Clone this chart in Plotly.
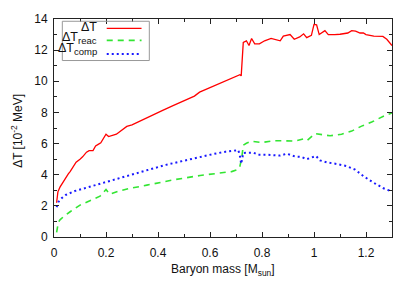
import plotly.graph_objects as go

# ---- data ----
mass_total = [0.01, 0.015, 0.023, 0.035, 0.042, 0.055, 0.062, 0.075, 0.085, 0.10, 0.11, 0.125, 0.135, 0.15,
              0.16, 0.17, 0.18, 0.20, 0.21, 0.24, 0.26, 0.28, 0.30, 0.33, 0.36, 0.38, 0.42, 0.46, 0.50, 0.54,
              0.56, 0.60, 0.64, 0.68, 0.70, 0.715, 0.72, 0.728, 0.74, 0.75, 0.76, 0.772, 0.79, 0.81, 0.835,
              0.85, 0.87, 0.882, 0.908, 0.924, 0.945, 0.96, 0.972, 0.99, 1.00, 1.01, 1.02, 1.042, 1.055, 1.08,
              1.10, 1.13, 1.145, 1.16, 1.177, 1.19, 1.20, 1.23, 1.265, 1.28, 1.30]
dT_total = [2.2, 2.9, 3.2, 3.55, 3.7, 4.05, 4.2, 4.55, 4.8, 5.0, 5.15, 5.45, 5.55, 5.55,
            5.85, 5.95, 6.05, 6.6, 6.45, 6.6, 6.85, 7.1, 7.2, 7.45, 7.7, 7.85, 8.15, 8.45, 8.75, 9.05,
            9.3, 9.6, 9.9, 10.15, 10.3, 10.42, 10.35, 12.5, 12.6, 12.3, 12.75, 12.4, 12.4, 12.6, 12.75,
            12.7, 12.6, 12.9, 13.0, 12.7, 12.85, 13.05, 12.8, 12.95, 13.65, 13.62, 13.0, 13.25, 13.0, 13.0,
            13.02, 13.1, 13.25, 13.22, 13.1, 13.1, 13.0, 12.9, 12.88, 12.7, 12.3]

mass_reac = [0.01, 0.017, 0.023, 0.036, 0.062, 0.10, 0.138, 0.177, 0.20, 0.215, 0.25, 0.286, 0.357, 0.459,
             0.562, 0.638, 0.683, 0.709, 0.715, 0.722, 0.728, 0.74, 0.76, 0.80, 0.843, 0.882, 0.927, 0.965,
             0.975, 1.004, 1.036, 1.062, 1.106, 1.145, 1.183, 1.222, 1.267, 1.30]
dT_reac = [0.3, 0.95, 1.1, 1.3, 1.62, 2.05, 2.33, 2.62, 3.05, 2.75, 2.95, 3.1, 3.33, 3.67,
           3.95, 4.1, 4.2, 4.35, 4.55, 5.06, 5.9, 6.02, 6.15, 6.07, 6.18, 6.18, 6.16, 6.32,
           6.22, 6.64, 6.54, 6.5, 6.6, 6.8, 7.12, 7.38, 7.76, 7.97]

mass_comp = [0.01, 0.017, 0.03, 0.045, 0.08, 0.10, 0.14, 0.20, 0.24, 0.28, 0.36, 0.43, 0.51, 0.56, 0.61,
             0.66, 0.709, 0.715, 0.72, 0.728, 0.745, 0.767, 0.786, 0.82, 0.87, 0.895, 0.927, 0.95, 0.972,
             1.008, 1.023, 1.05, 1.087, 1.126, 1.158, 1.19, 1.228, 1.267, 1.30]
dT_comp = [1.92, 2.25, 2.5, 2.7, 2.95, 3.05, 3.25, 3.55, 3.7, 3.93, 4.3, 4.63, 4.95, 5.15, 5.32,
           5.48, 5.58, 5.2, 4.7, 5.4, 5.4, 5.42, 5.28, 5.28, 5.23, 5.35, 5.17, 5.15, 5.0,
           5.2, 4.92, 4.79, 4.69, 4.55, 4.33, 3.91, 3.5, 3.13, 2.92]

x_ticks = [0, 0.2, 0.4, 0.6, 0.8, 1, 1.2]
x_tick_labels = ["0", "0.2", "0.4", "0.6", "0.8", "1", "1.2"]
y_ticks = [0, 2, 4, 6, 8, 10, 12, 14]

RED = "#ff0000"
GREEN = "#33e533"
BLUE = "#1a1aff"
FONT = "Liberation Sans"
RED_DASH, GREEN_DASH, BLUE_DASH = "solid", "6px,5px", "2px,3px"

fig = go.Figure()
fig.add_trace(go.Scatter(x=mass_total, y=dT_total, mode="lines", name="ΔT",
                         line=dict(color=RED, width=1.3, dash=RED_DASH)))
fig.add_trace(go.Scatter(x=mass_reac, y=dT_reac, mode="lines", name="ΔT_reac",
                         line=dict(color=GREEN, width=1.6, dash=GREEN_DASH)))
fig.add_trace(go.Scatter(x=mass_comp, y=dT_comp, mode="lines", name="ΔT_comp",
                         line=dict(color=BLUE, width=2, dash=BLUE_DASH)))

axis_common = dict(showgrid=False, zeroline=False, showline=True, linecolor="#222222", linewidth=1,
                   mirror="ticks", ticks="inside", ticklen=5, tickcolor="#222222", tickwidth=1,
                   tickfont=dict(family=FONT, size=12, color="#111111"))

fig.update_xaxes(range=[0, 1.3], tickvals=x_ticks, ticktext=x_tick_labels, ticklabelstandoff=5,
                 minor=dict(ticks="inside", dtick=0.1, ticklen=3, tickcolor="#222222", showgrid=False),
                 **axis_common)
fig.update_yaxes(range=[0, 14], tickvals=y_ticks, ticklabelstandoff=3,
                 minor=dict(ticks="inside", dtick=1, ticklen=3, tickcolor="#222222", showgrid=False),
                 **axis_common)

# legend drawn like the gnuplot key (text on the left, sample on the right)
shapes = [dict(type="rect", xref="paper", yref="paper", x0=0.0246, x1=0.282, y0=0.8095, y1=0.9896,
               line=dict(color="#999999", width=1), fillcolor="rgba(0,0,0,0)")]
SUB = '<sub><span style="font-size:9.5px">{}</span></sub>'
leg_rows = [("ΔT", RED, 1.3, RED_DASH, 0.957, 0.962),
            ("ΔT" + SUB.format("reac"), GREEN, 1.6, GREEN_DASH, 0.902, 0.915),
            ("ΔT" + SUB.format("comp"), BLUE, 2, BLUE_DASH, 0.839, 0.863)]
annotations = []
for txt, col, w, dash, yline, ytext in leg_rows:
    shapes.append(dict(type="line", xref="paper", yref="paper", x0=0.156, x1=0.259, y0=yline, y1=yline,
                       line=dict(color=col, width=w, dash=dash)))
    annotations.append(dict(text=txt, xref="paper", yref="paper", x=0.132, y=ytext,
                            xanchor="right", yanchor="middle", showarrow=False,
                            font=dict(family=FONT, size=12.5, color="#111111")))

annotations.append(dict(text="ΔT [10<sup>-2</sup> MeV]", xref="paper", yref="paper",
                        x=-0.11, y=0.486, textangle=-90, xanchor="center", yanchor="middle",
                        showarrow=False, font=dict(family=FONT, size=12, color="#111111")))
annotations.append(dict(text="Baryon mass [M<sub>sun</sub>]", xref="paper", yref="paper",
                        x=0.5, y=-0.15, xanchor="center", yanchor="middle",
                        showarrow=False, font=dict(family=FONT, size=12, color="#111111")))

fig.update_layout(width=415, height=291, margin=dict(l=54, r=23, t=15, b=54),
                  paper_bgcolor="white", plot_bgcolor="white", showlegend=False,
                  shapes=shapes, annotations=annotations,
                  font=dict(family=FONT, size=12, color="#111111"))

fig.write_html("out.html", config={"displayModeBar": False},
               post_script="document.body.style.margin='0px';")
